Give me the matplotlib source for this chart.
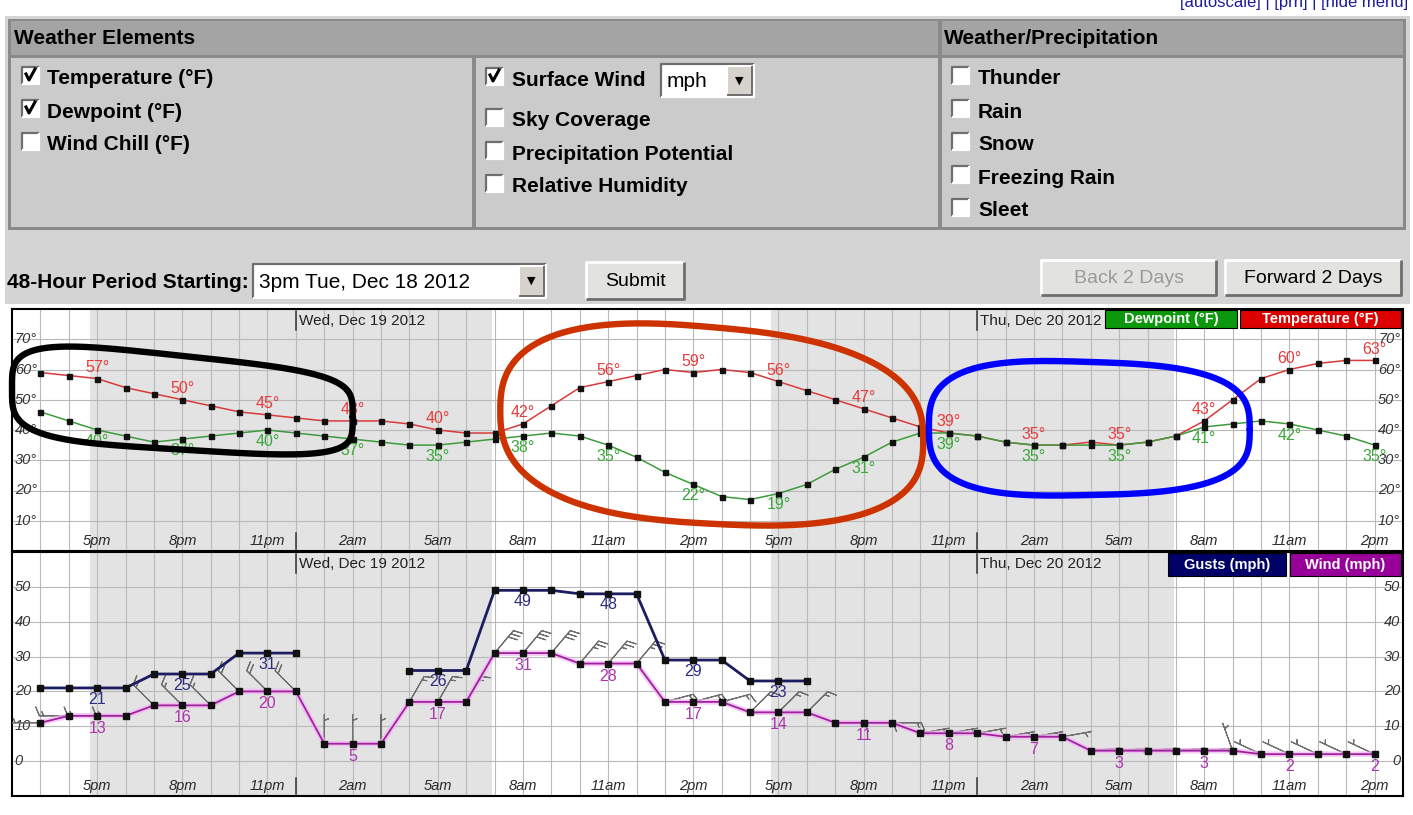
import matplotlib.pyplot as plt
import numpy as np
from matplotlib.patches import Rectangle
from matplotlib.transforms import blended_transform_factory


W, H = 1413, 815
UI_FONT = ["Liberation Sans Narrow", "Liberation Sans", "DejaVu Sans"]
CHART_FONT = ["Liberation Sans", "DejaVu Sans"]

# hourly forecast, hour 0 = 3pm Tue, Dec 18 2012
hours = np.arange(48)
temperature = [59, 58, 57, 54, 52, 50, 48, 46, 45, 44, 43, 43, 43, 42, 40, 39,
               39, 42, 48, 54, 56, 58, 60, 59, 60, 59, 56, 53, 50, 47, 44, 41,
               39, 38, 36, 35, 35, 36, 35, 36, 38, 43, 50, 57, 60, 62, 63, 63]
dewpoint = [46, 43, 40, 38, 36, 37, 38, 39, 40, 39, 38, 37, 36, 35, 35, 36,
            37, 38, 39, 38, 35, 31, 26, 22, 18, 17, 19, 22, 27, 31, 36, 39,
            39, 38, 36, 35, 35, 35, 35, 36, 38, 41, 42, 43, 42, 40, 38, 35]
wind = [11, 13, 13, 13, 16, 16, 16, 20, 20, 20, 5, 5, 5, 17, 17, 17,
        31, 31, 31, 28, 28, 28, 17, 17, 17, 14, 14, 14, 11, 11, 11, 8,
        8, 8, 7, 7, 7, 3, 3, 3, 3, 3, 3, 2, 2, 2, 2, 2]
gusts = [21, 21, 21, 21, 25, 25, 25, 31, 31, 31, None, None, None, 26, 26, 26,
         49, 49, 49, 48, 48, 48, 29, 29, 29, 23, 23, 23] + [None] * 20
wind_dir = [270, 270, 270, 270, 315, 315, 315, 315, 315, 315, 0, 0, 0, 30, 30, 30,
            40, 40, 40, 40, 40, 40, 75, 75, 75, 45, 45, 45, 90, 90, 90, 80,
            80, 80, 80, 80, 80, 85, 85, 85, 85, 85, 340, 295, 295, 295, 295, 295]

label_hours = [2, 5, 8, 11, 14, 17, 20, 23, 26, 29, 32, 35, 38, 41, 44, 47]
tick_labels = ["5pm", "8pm", "11pm", "2am", "5am", "8am", "11am", "2pm",
               "5pm", "8pm", "11pm", "2am", "5am", "8am", "11am", "2pm"]
midnights = [9, 33]
day_labels = ["Wed, Dec 19 2012", "Thu, Dec 20 2012"]
night_spans = [(1.75, 15.9), (25.75, 39.95)]
temp_ticks = [10, 20, 30, 40, 50, 60, 70]
wind_ticks = [0, 10, 20, 30, 40, 50]

elements_col1 = [("Temperature (°F)", True), ("Dewpoint (°F)", True), ("Wind Chill (°F)", False)]
elements_col2 = [("Surface Wind", True), ("Sky Coverage", False),
                 ("Precipitation Potential", False), ("Relative Humidity", False)]
precip_items = ["Thunder", "Rain", "Snow", "Freezing Rain", "Sleet"]


def px_axes(fig, x0, y0, x1, y1, **kw):
    return fig.add_axes([x0 / W, 1 - y1 / H, (x1 - x0) / W, (y1 - y0) / H], **kw)


def bevel(ax, x0, y0, x1, y1, raised=True, lw=1.5):
    light, dark = ("#ffffff", "#6e6e6e") if raised else ("#6e6e6e", "#ffffff")
    ax.plot([x0, x0, x1], [y1, y0, y0], color=light, lw=lw, solid_capstyle="butt")
    ax.plot([x0, x1, x1], [y1, y1, y0], color=dark, lw=lw, solid_capstyle="butt")


def checkbox(ax, x, y, checked):
    ax.add_patch(Rectangle((x, y - 10), 17, 17, fc="white", ec="none"))
    bevel(ax, x, y - 10, x + 17, y + 7, raised=False, lw=1.6)
    if checked:
        ax.plot([x + 4, x + 7, x + 13], [y - 3, y + 3, y - 8], color="black", lw=2.2)


def ui_text(ax, x, y, s, size=15, bold=True, **kw):
    ax.text(x, y, s, fontsize=size, fontweight="bold" if bold else "normal",
            family=UI_FONT, va="center", ha=kw.pop("ha", "left"), **kw)


def button(ax, x0, y0, x1, y1, label, color="black"):
    ax.add_patch(Rectangle((x0, y0), x1 - x0, y1 - y0, fc="#e2e2de", ec="none"))
    bevel(ax, x0, y0, x1, y1, raised=True, lw=2)
    ax.text((x0 + x1) / 2, (y0 + y1) / 2 + 1, label, fontsize=14, color=color,
            family=CHART_FONT, ha="center", va="center")


def dropdown(ax, x0, y0, x1, y1, label):
    ax.add_patch(Rectangle((x0, y0), x1 - x0, y1 - y0, fc="white", ec="none"))
    bevel(ax, x0, y0, x1, y1, raised=False, lw=1.6)
    ax.add_patch(Rectangle((x1 - 27, y0 + 2), 25, y1 - y0 - 4, fc="#d6d3ce", ec="none"))
    bevel(ax, x1 - 27, y0 + 2, x1 - 2, y1 - 2, raised=True, lw=1.4)
    ax.text(x1 - 14.5, (y0 + y1) / 2, "▼", fontsize=8, ha="center", va="center",
            family="DejaVu Sans")
    ax.text(x0 + 6, (y0 + y1) / 2 + 1, label, fontsize=15, family=UI_FONT,
            ha="left", va="center")


def draw_form(ax):
    ax.add_patch(Rectangle((5, 16), 1405, 288, fc="#d4d4d4", ec="none"))
    ax.text(1408, 3, "[autoscale] | [prn] | [hide menu]", fontsize=12, color="#1a1aa0",
            family=CHART_FONT, ha="right", va="center")
    # table frame
    ax.add_patch(Rectangle((8, 19), 1398, 211, fc="#8a8a8a", ec="none"))
    ax.add_patch(Rectangle((11, 21), 927, 34, fc="#a4a4a4", ec="none"))
    ax.add_patch(Rectangle((942, 21), 461, 34, fc="#a4a4a4", ec="none"))
    for x0, x1 in [(11, 472), (476, 938), (942, 1403)]:
        ax.add_patch(Rectangle((x0, 58), x1 - x0, 169, fc="#cbcbcb", ec="none"))
    ui_text(ax, 14, 38, "Weather Elements", size=15)
    ui_text(ax, 944, 38, "Weather/Precipitation", size=15)

    for i, (name, on) in enumerate(elements_col1):
        y = 79 + 33 * i
        checkbox(ax, 22, y - 2, on)
        ui_text(ax, 47, y, name)
    ys = [80, 121, 154, 187]
    for (name, on), y in zip(elements_col2, ys):
        checkbox(ax, 486, y - 2, on)
        ui_text(ax, 512, y, name)
    dropdown(ax, 661, 64, 754, 97, "mph")
    for i, name in enumerate(precip_items):
        y = 79 + 33 * i
        checkbox(ax, 952, y - 2, False)
        ui_text(ax, 978, y, name)

    ui_text(ax, 7, 282, "48-Hour Period Starting:", size=15)
    dropdown(ax, 253, 264, 546, 298, "3pm Tue, Dec 18 2012")
    button(ax, 586, 262, 684, 299, "Submit")
    button(ax, 1041, 260, 1216, 295, "Back 2 Days", color="#9a9a9a")
    button(ax, 1225, 260, 1401, 295, "Forward 2 Days")


def setup_panel(ax, ylim, yticks, suffix):
    ax.set_xlim(-1, 48)
    ax.set_ylim(*ylim)
    ax.set_facecolor("white")
    for a, b in night_spans:
        ax.axvspan(a, b, color="#e3e3e3", lw=0, zorder=0)
    ax.set_xticks(hours)
    ax.set_yticks(yticks)
    ax.tick_params(length=0, labelbottom=False, labelleft=False)
    ax.grid(True, color="#b9b9b9", lw=0.8, zorder=1)
    ax.set_axisbelow(True)
    for sp in ax.spines.values():
        sp.set_color("black")
        sp.set_linewidth(1.5)
    blend = blended_transform_factory(ax.transData, ax.transAxes)
    for h, lab in zip(label_hours, tick_labels):
        ax.text(h, 0.042, lab, transform=blend, ha="center", va="center",
                style="italic", fontsize=10.5, color="#2a2a2a", family=CHART_FONT)
    for m, day in zip(midnights, day_labels):
        ax.plot([m, m], [0.008, 0.075], transform=blend, color="#333333", lw=1.1)
        ax.plot([m, m], [0.915, 0.99], transform=blend, color="#333333", lw=1.1)
        ax.text(m + 0.1, 0.952, day, transform=blend, ha="left", va="center",
                fontsize=11, color="#222222", family=CHART_FONT)
    blend_y = blended_transform_factory(ax.transAxes, ax.transData)
    for v in yticks:
        ax.text(0.002, v, f"{v}{suffix}", transform=blend_y, ha="left", va="center",
                style="italic", fontsize=10.5, color="#333333", family=CHART_FONT)
        ax.text(0.998, v, f"{v}{suffix}", transform=blend_y, ha="right", va="center",
                style="italic", fontsize=10.5, color="#333333", family=CHART_FONT)


def legend_box(ax, x0, x1, y0, y1, text, color):
    ax.add_patch(Rectangle((x0, y0), x1 - x0, y1 - y0, transform=ax.transAxes,
                           fc=color, ec="black", lw=0.8, zorder=6))
    ax.text((x0 + x1) / 2, (y0 + y1) / 2, text, transform=ax.transAxes, color="white",
            fontsize=10.5, fontweight="bold", ha="center", va="center",
            family=CHART_FONT, zorder=7)


def loop(ax, cx, cy, rx, ry, p, tilt_top, tilt_bot, color):
    t = np.linspace(0, 2 * np.pi, 500)
    c, s = np.cos(t), np.sin(t)
    x = cx + rx * np.sign(c) * np.abs(c) ** (2 / p)
    w = (1 + s) / 2
    tilt = tilt_bot * (1 - w) + tilt_top * w
    y = cy + ry * np.sign(s) * np.abs(s) ** (2 / p) + tilt * (x - cx)
    ax.plot(x, y, color=color, lw=4.6, clip_on=False, zorder=10,
            solid_capstyle="round", solid_joinstyle="round")


def main():
    fig = plt.figure(figsize=(W / 100, H / 100), dpi=100)
    fig.patch.set_facecolor("white")

    ui = fig.add_axes([0, 0, 1, 1])
    ui.set_xlim(0, W)
    ui.set_ylim(H, 0)
    ui.axis("off")
    draw_form(ui)

    # temperature / dewpoint panel
    top = px_axes(fig, 12, 309, 1403, 551)
    setup_panel(top, (0, 80), temp_ticks, "°")
    top.plot(hours, temperature, color="#d83a3a", lw=1.1, marker="s", ms=3.6,
             mfc="#111111", mec="#111111", zorder=4)
    top.plot(hours, dewpoint, color="#3c9c3c", lw=1.1, marker="s", ms=3.6,
             mfc="#111111", mec="#111111", zorder=4)
    for h in label_hours:
        top.annotate(f"{temperature[h]}°", (h, temperature[h]), xytext=(0, 8),
                     textcoords="offset points", ha="center", va="center",
                     color="#e83a3a", fontsize=11.5, family=CHART_FONT, zorder=5)
        top.annotate(f"{dewpoint[h]}°", (h, dewpoint[h]), xytext=(0, -8),
                     textcoords="offset points", ha="center", va="center",
                     color="#3aa83a", fontsize=11.5, family=CHART_FONT, zorder=5)
    legend_box(top, 0.7858, 0.8807, 0.921, 0.996, "Dewpoint (°F)", "#0c980c")
    legend_box(top, 0.8828, 0.9986, 0.921, 0.996, "Temperature (°F)", "#dd0000")

    # hand-drawn highlight loops
    loop(top, 5.0, 49.0, 6.0, 15.5, 4, -1.0, -0.57, "#000000")
    loop(top, 23.65, 41.5, 7.45, 32.5, 2.6, -0.8, -0.5, "#cc3300")
    loop(top, 36.95, 40.5, 5.65, 22.0, 3, -0.3, 0.2, "#0000ff")

    # wind / gust panel
    bot = px_axes(fig, 12, 552, 1403, 796)
    setup_panel(bot, (-10, 60), wind_ticks, "")
    spd = np.array(wind, dtype=float)
    ang = np.deg2rad(wind_dir)
    bot.barbs(hours, spd, -spd * np.sin(ang), -spd * np.cos(ang), length=6.5,
              color="#6f6f6f", lw=0.8, zorder=3,
              barb_increments=dict(half=2, full=10, flag=50),
              sizes=dict(height=0.3, spacing=0.14, width=0.25))
    g = np.array([np.nan if v is None else v for v in gusts], dtype=float)
    bot.plot(hours, g, color="#1c1c60", lw=2.0, marker="s", ms=4, mfc="#111111",
             mec="#111111", zorder=4)
    bot.plot(hours, wind, color="#f2b6f2", lw=4, alpha=0.7, zorder=3)
    bot.plot(hours, wind, color="#a020a0", lw=1.3, marker="s", ms=4, mfc="#111111",
             mec="#111111", zorder=4)
    for h in label_hours:
        bot.annotate(f"{wind[h]}", (h, wind[h]), xytext=(0, -9),
                     textcoords="offset points", ha="center", va="center",
                     color="#b032b0", fontsize=11.5, family=CHART_FONT, zorder=5)
        if gusts[h] is not None:
            bot.annotate(f"{gusts[h]}", (h, gusts[h]), xytext=(0, -8),
                         textcoords="offset points", ha="center", va="center",
                         color="#2c2c80", fontsize=11.5, family=CHART_FONT, zorder=5)
    legend_box(bot, 0.8307, 0.9159, 0.9, 0.996, "Gusts (mph)", "#000066")
    legend_box(bot, 0.9187, 0.9986, 0.9, 0.996, "Wind (mph)", "#990099")

    fig.savefig("out.png", dpi=100)
    plt.close(fig)


if __name__ == "__main__":
    main()
